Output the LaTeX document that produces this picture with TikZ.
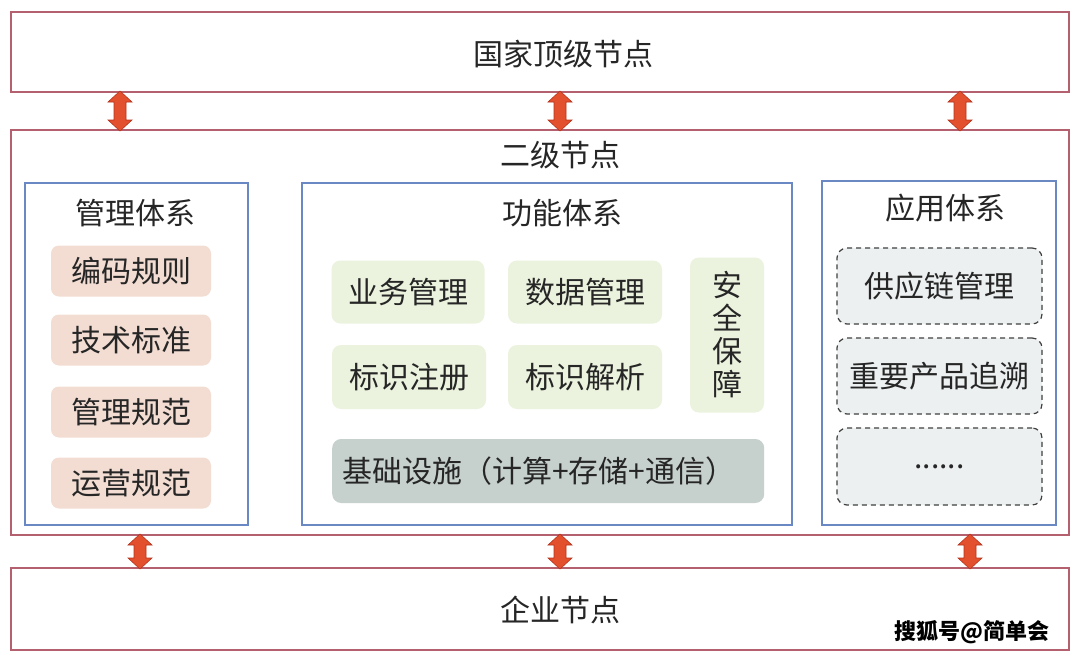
\documentclass[tikz,border=0pt]{standalone}
\usepackage{fontspec}
\setmainfont{Noto Sans CJK SC}
\usetikzlibrary{calc}
\definecolor{outerc}{HTML}{B4606E}
\definecolor{bluec}{HTML}{6A88C4}
\definecolor{pinkc}{HTML}{F3DDD3}
\definecolor{greenc}{HTML}{EBF3DE}
\definecolor{grayc}{HTML}{C6D0CD}
\definecolor{appc}{HTML}{EDF0F1}
\definecolor{arrowc}{HTML}{E2502E}
\definecolor{arrowd}{HTML}{B8331C}
\tikzset{
  outerbox/.style={draw=outerc, line width=1.3pt, fill=white},
  bluebox/.style={draw=bluec, line width=1.6pt, fill=white},
  pinkbox/.style={fill=pinkc, rounded corners=8pt},
  greenbox/.style={fill=greenc, rounded corners=9pt},
  graybox/.style={fill=grayc, rounded corners=9pt},
  appbox/.style={fill=appc, draw=black!75, line width=1.2pt, dash pattern=on 5pt off 4pt, rounded corners=10pt},
  dblarrow/.style={fill=arrowc, draw=arrowd, line width=0.6pt, line join=miter},
  lbl/.style={font=\fontsize{30}{34}\selectfont, text=black!85},
}
% #1 top coordinate, #2 bottom coordinate
\newcommand{\fatarrow}[2]{%
  \draw[dblarrow] (#1) -- ++(12,11) -- ++(-6,0) -- ($(#2)+(6,-11)$) -- ++(6,0) -- (#2)
     -- ++(-12,-11) -- ++(6,0) -- ($(#1)+(-6,11)$) -- ++(-6,0) -- cycle;}
\begin{document}
\begin{tikzpicture}[x=1pt,y=-1pt]
\useasboundingbox (0,0) rectangle (1080,656);
\fill[white] (0,0) rectangle (1080,656);
% main boxes
\draw[outerbox] (11,12) rectangle (1069,92);
\node[lbl] (top) at (563,54) {国家顶级节点};
\coordinate (topS) at (540,92);
\draw[outerbox] (11,130) rectangle (1069,535);
\node[lbl] (mid) at (560,155) {二级节点};
\coordinate (midN) at (540,130);
\coordinate (midS) at (540,535);
\draw[outerbox] (11,568) rectangle (1069,650);
\node[lbl] (bot) at (560,610) {企业节点};
\coordinate (botN) at (540,568);
% arrows
\foreach \x/\n in {120/a1,560/a2,960/a3}{
  \coordinate (c\n) at (\x,0);
  \coordinate (\n t) at ($(topS -| c\n)+(0,-1)$);
  \coordinate (\n b) at ($(midN -| c\n)+(0,1)$);
  \fatarrow{\n t}{\n b}
}
\foreach \x/\n in {140/b1,560/b2,970/b3}{
  \coordinate (c\n) at (\x,0);
  \coordinate (\n t) at ($(midS -| c\n)+(0,-1)$);
  \coordinate (\n b) at ($(botN -| c\n)+(0,1)$);
  \fatarrow{\n t}{\n b}
}
% left system
\draw[bluebox] (25,183) rectangle (248,525);
\node[lbl] (gl) at (135,213) {管理体系};
\node[pinkbox, minimum width=160pt, minimum height=51pt, lbl] (p1) at (131,271) {编码规则};
\node[pinkbox, minimum width=160pt, minimum height=51pt, lbl] (p2) at (131,340) {技术标准};
\node[pinkbox, minimum width=160pt, minimum height=51pt, lbl] (p3) at (131,412) {管理规范};
\node[pinkbox, minimum width=160pt, minimum height=51pt, lbl] (p4) at (131,483) {运营规范};
% middle system
\draw[bluebox] (302,183) rectangle (792,525);
\node[lbl] (gm) at (562,213) {功能体系};
\node[greenbox, minimum width=153pt, minimum height=63pt, lbl] (g1) at (408,292) {业务管理};
\node[greenbox, minimum width=154pt, minimum height=63pt, lbl] (g2) at (585,292) {数据管理};
\node[greenbox, minimum width=154pt, minimum height=64pt, lbl] (g3) at (409,377) {标识注册};
\node[greenbox, minimum width=154pt, minimum height=64pt, lbl] (g4) at (585,377) {标识解析};
\node[greenbox, minimum width=74pt, minimum height=155pt, lbl, align=center, font=\fontsize{30}{33}\selectfont] (g5) at (727,335) {安\\全\\保\\障};
\node[graybox, minimum width=432pt, minimum height=64pt, lbl, anchor=west, inner xsep=10pt, text width=412pt] (g6) at (332,471) {基础设施（计算+存储+通信）};
% right system
\draw[bluebox] (822,181) rectangle (1056,525);
\node[lbl] (gr) at (945,208) {应用体系};
\node[appbox, minimum width=205pt, minimum height=76pt, lbl] (r1) at (939.5,286) {供应链管理};
\node[appbox, minimum width=205pt, minimum height=76pt, lbl] (r2) at (939.5,376) {重要产品追溯};
\node[appbox, minimum width=205pt, minimum height=77pt, lbl] (r3) at (939.5,466.5) {......};
% watermark
\node[font=\fontsize{22}{26}\selectfont\bfseries, text=black] (wm) at (972,632) {搜狐号@简单会};
\end{tikzpicture}
\end{document}
